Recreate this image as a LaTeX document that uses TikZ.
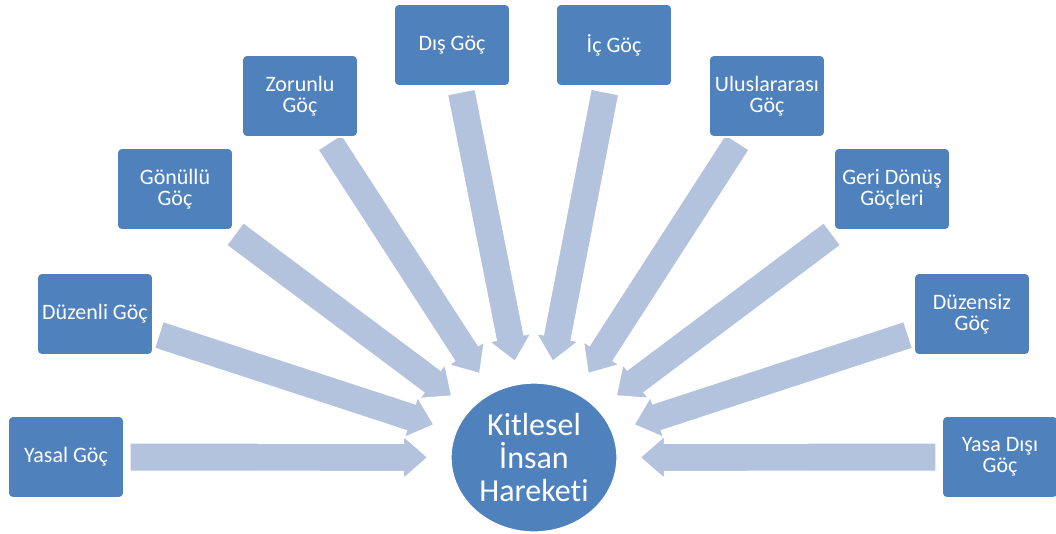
\documentclass[tikz,border=0pt]{standalone}
\usepackage{fontspec}
\setmainfont{Carlito}[Ligatures=NoCommon]
\usetikzlibrary{calc,shapes.geometric}
\definecolor{boxblue}{HTML}{4F81BD}
\definecolor{arrowblue}{HTML}{B3C2DD}
\pgfdeclarelayer{bg}
\pgfsetlayers{bg,main}
\newcommand\blockarr[2]{%
  \path (#1) -- (#2) coordinate[pos=0] (bs) coordinate[pos=1] (be);
  \coordinate (S) at ($(bs)!4pt!(be)$);
  \coordinate (T) at ($(be)!17pt!(bs)$);
  \coordinate (H) at ($(T)!18pt!(S)$);
  \filldraw[arrowstyle] ($(S)!10.5pt!90:(T)$) -- ($(H)!10.5pt!90:(T)$) -- ($(H)!15.75pt!90:(T)$) -- (T) -- ($(H)!15.75pt!-90:(T)$) -- ($(H)!10.5pt!-90:(T)$) -- ($(S)!10.5pt!-90:(T)$) -- cycle;
}
\tikzset{
  gbox/.style={draw=white, line width=1.2pt, fill=boxblue, rounded corners=3.75pt,
    minimum width=87pt, minimum height=61.5pt, inner sep=0pt, text=white, align=center,
    font=\fontsize{16.5pt}{15.5pt}\selectfont},
  hub/.style={ellipse, draw=white, line width=1pt, fill=boxblue, minimum width=124.5pt, minimum height=111.75pt,
    inner sep=0pt, text=white, align=center, font=\fontsize{24pt}{24.75pt}\selectfont},
  arrowstyle/.style={fill=arrowblue, draw=white, line width=0.8pt, line join=miter}
}
\begin{document}
\begin{tikzpicture}[x=0.75pt,y=-0.75pt]
\useasboundingbox (0,0) rectangle (1056,533);
\node[hub] (c) at (534,457.5) {Kitlesel\\İnsan\\Hareketi};
\node[gbox] (b1) at (66,457) {Yasal Göç};
\node[gbox] (b2) at (95,314) {Düzenli Göç};
\node[gbox] (b3) at (175,189) {Gönüllü\\Göç};
\node[gbox] (b4) at (300,96) {Zorunlu\\Göç};
\node[gbox] (b5) at (452,45) {Dış Göç};
\node[gbox] (b6) at (614,45) {İç Göç};
\node[gbox] (b7) at (767,96) {Uluslararası\\Göç};
\node[gbox] (b8) at (892,189) {Geri Dönüş\\Göçleri};
\node[gbox] (b9) at (972,314) {Düzensiz\\Göç};
\node[gbox] (b10) at (1000,457) {Yasa Dışı\\Göç};
\begin{pgfonlayer}{bg}
\blockarr{b1}{c}
\blockarr{b2}{c}
\blockarr{b3}{c}
\blockarr{b4}{c}
\blockarr{b5}{c}
\blockarr{b6}{c}
\blockarr{b7}{c}
\blockarr{b8}{c}
\blockarr{b9}{c}
\blockarr{b10}{c}
\end{pgfonlayer}
\end{tikzpicture}
\end{document}
